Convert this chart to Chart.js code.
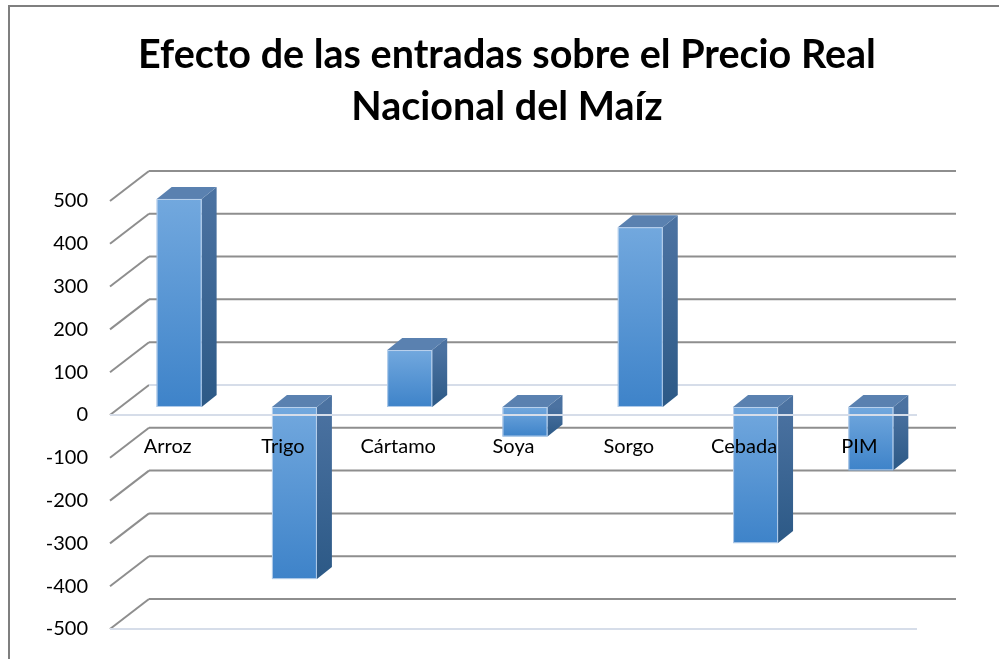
<!DOCTYPE html>
<html>
  <head>
    <meta charset="utf-8">
    <title>Efecto de las entradas</title>
    <script src="https://cdn.jsdelivr.net/npm/chart.js@4.4.0/dist/chart.umd.min.js"></script>
    <style>
      html, body { margin: 0; padding: 0; background: #fff; }
      #wrap { width: 999px; height: 659px; position: relative; }
    </style>
  </head>
  <body>
    <div id="wrap">
      <canvas id="chart" width="999" height="659"></canvas>
    </div>

    <script type="text/javascript">
    var categories = ["Arroz", "Trigo", "Cártamo", "Soya", "Sorgo", "Cebada", "PIM"]
    var values = [486, -402, 133, -69, 420, -318, -148]
    var yMin = -500
    var yMax = 500
    var yStep = 100
    var titleLines = ["Efecto de las entradas sobre el Precio Real", "Nacional del Maíz"]

    var FONT = "Lato, 'Open Sans', sans-serif"

    // 3d look: wall depth and bar offsets (pixels)
    var WALL_DX = 39, WALL_DY = -30
    var BAR_OX = 11.5, BAR_OY = -8
    var BAR_DX = 15, BAR_DY = -12

    var grid3d = {
      id: 'grid3d',
      beforeDraw: function(chart) {
        var ctx = chart.ctx
        ctx.save()
        ctx.strokeStyle = '#7f7f7f'
        ctx.lineWidth = 2
        ctx.beginPath()
        ctx.moveTo(9, chart.height)
        ctx.lineTo(9, 6)
        ctx.lineTo(chart.width, 6)
        ctx.stroke()
        ctx.restore()
      },
      beforeDatasetsDraw: function(chart) {
        var ctx = chart.ctx
        var ys = chart.scales.y
        var area = chart.chartArea
        ctx.save()
        ctx.lineWidth = 2
        ys.ticks.forEach(function(t) {
          var y = ys.getPixelForValue(t.value)
          // side wall
          ctx.strokeStyle = '#8e8e8e'
          ctx.beginPath()
          ctx.moveTo(area.left, y)
          ctx.lineTo(area.left + WALL_DX, y + WALL_DY)
          ctx.stroke()
          // back wall
          ctx.strokeStyle = t.value === 0 ? '#d6dde9' : '#8e8e8e'
          ctx.beginPath()
          ctx.moveTo(area.left + WALL_DX, y + WALL_DY)
          ctx.lineTo(area.right + WALL_DX, y + WALL_DY)
          ctx.stroke()
        })
        ctx.restore()
      },
      afterDatasetsDraw: function(chart) {
        var ctx = chart.ctx
        var ys = chart.scales.y
        var xs = chart.scales.x
        var area = chart.chartArea
        var meta = chart.getDatasetMeta(0)
        ctx.save()
        meta.data.forEach(function(bar) {
          var p = bar.getProps(['x', 'y', 'base', 'width'], true)
          var x0 = p.x - p.width / 2 + BAR_OX
          var x1 = p.x + p.width / 2 + BAR_OX
          var top = Math.min(p.y, p.base) + BAR_OY
          var bot = Math.max(p.y, p.base) + BAR_OY

          // side face
          var gs = ctx.createLinearGradient(0, top, 0, bot)
          gs.addColorStop(0, '#4b72a1')
          gs.addColorStop(1, '#2c5986')
          ctx.fillStyle = gs
          ctx.beginPath()
          ctx.moveTo(x1, top)
          ctx.lineTo(x1 + BAR_DX, top + BAR_DY)
          ctx.lineTo(x1 + BAR_DX, bot + BAR_DY)
          ctx.lineTo(x1, bot)
          ctx.closePath()
          ctx.fill()

          // top face
          ctx.fillStyle = '#5a81b0'
          ctx.beginPath()
          ctx.moveTo(x0, top)
          ctx.lineTo(x0 + BAR_DX, top + BAR_DY)
          ctx.lineTo(x1 + BAR_DX, top + BAR_DY)
          ctx.lineTo(x1, top)
          ctx.closePath()
          ctx.fill()

          // front face
          var gf = ctx.createLinearGradient(0, top, 0, bot)
          gf.addColorStop(0, '#72a8de')
          gf.addColorStop(1, '#3e83c9')
          ctx.fillStyle = gf
          ctx.fillRect(x0, top, x1 - x0, bot - top)
          ctx.strokeStyle = 'rgba(205,220,240,0.8)'
          ctx.lineWidth = 1
          ctx.strokeRect(x0 + 0.5, top + 0.5, x1 - x0 - 1, bot - top - 1)
        })

        // floor front edges at 0 and at the bottom
        ctx.strokeStyle = '#d6dde9'
        ctx.lineWidth = 2
        ;[0, yMin].forEach(function(v) {
          var y = ys.getPixelForValue(v)
          ctx.beginPath()
          ctx.moveTo(area.left, y)
          ctx.lineTo(area.right, y)
          ctx.stroke()
        })

        // category labels sit just below the zero line
        ctx.fillStyle = '#000'
        ctx.font = '20px ' + FONT
        ctx.textAlign = 'center'
        ctx.textBaseline = 'middle'
        var y0 = ys.getPixelForValue(0)
        categories.forEach(function(c, i) {
          ctx.fillText(c, xs.getPixelForValue(i), y0 + 32)
        })
        ctx.restore()
      }
    }

    var chart = new Chart(document.getElementById('chart'), {
      type: 'bar',
      data: {
        labels: categories,
        datasets: [{
          label: 'Efecto',
          data: values,
          backgroundColor: 'transparent',
          borderWidth: 0,
          categoryPercentage: 1,
          barPercentage: 0.39
        }]
      },
      options: {
        responsive: false,
        animation: false,
        layout: { padding: { left: 15, right: 0, top: 0, bottom: 30 } },
        plugins: {
          legend: { display: false },
          tooltip: { enabled: false },
          title: {
            display: true,
            text: titleLines,
            color: '#000',
            font: { family: FONT, size: 39.5, weight: 'bold', lineHeight: 1.316 },
            padding: { top: 29, bottom: 68 }
          }
        },
        scales: {
          x: { display: false },
          y: {
            min: yMin,
            max: yMax,
            grid: { display: false, drawTicks: false },
            border: { display: false },
            ticks: { stepSize: yStep, padding: 22, color: '#000', font: { family: FONT, size: 20 } },
            afterFit: function(s) {
              s.width = 95
              // tick padding is horizontal here, don't let it eat vertical room
              s.paddingTop = 12
              s.paddingBottom = 12
            }
          },
          yRight: {
            position: 'right',
            grid: { display: false, drawTicks: false },
            border: { display: false },
            ticks: { display: false },
            afterFit: function(s) { s.width = 82 }
          }
        }
      },
      plugins: [grid3d]
    });
    </script>
  </body>
</html>
